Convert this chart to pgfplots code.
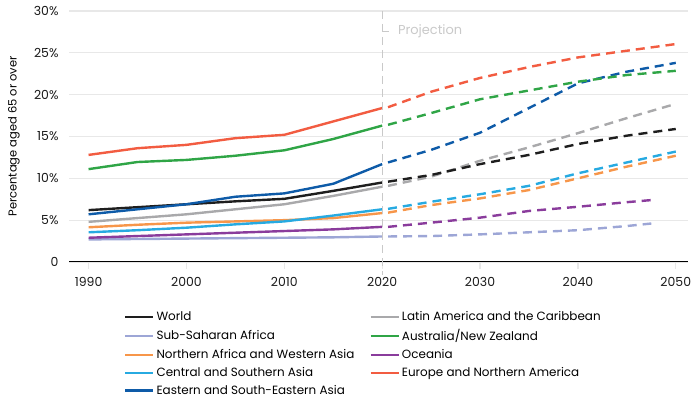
\documentclass[border=0pt]{standalone}
\usepackage{pgfplots}
\pgfplotsset{compat=1.18}
\usepackage{fontspec}
\setmainfont{Poppins}

\definecolor{cWorld}{HTML}{1E1E1E}
\definecolor{cSSA}{HTML}{9DA6D6}
\definecolor{cNAWA}{HTML}{F7964A}
\definecolor{cCSA}{HTML}{27AAE1}
\definecolor{cESEA}{HTML}{0E5BA8}
\definecolor{cLAC}{HTML}{A9A9AB}
\definecolor{cANZ}{HTML}{2FA546}
\definecolor{cOce}{HTML}{8A3C9C}
\definecolor{cENA}{HTML}{F25C41}
\definecolor{cGrid}{HTML}{E8E8E8}
\definecolor{cProj}{HTML}{C9C9C9}

\newcommand{\lw}{\makebox[211bp][l]}
\pgfplotsset{proj/.style={forget plot, dash pattern=on 9bp off 6bp}}

\begin{document}
\begin{tikzpicture}
\useasboundingbox (0,0) rectangle (700bp,407bp);
\begin{axis}[
  at={(69bp,145bp)}, anchor=south west,
  scale only axis, width=619bp, height=251bp,
  xmin=1988, xmax=2051.25, ymin=0, ymax=30,
  clip=false,
  axis line style={draw=none},
  xtick={1990,2000,...,2050},
  ytick={0,5,...,30},
  yticklabels={0,5\%,10\%,15\%,20\%,25\%,30\%},
  /pgf/number format/set thousands separator={},
  /pgf/number format/assume math mode=true,
  tick label style={font=\fontsize{12.5}{14}\selectfont, text=black!90},
  xticklabel style={yshift=-4.5bp},
  xtick pos=bottom, ytick pos=left,
  tick align=outside,
  xtick style={draw=cGrid, line width=1.2bp},
  ytick style={draw=none},
  major tick length=7bp,
  ymajorgrids, grid style={draw=cGrid, line width=1.2bp},
  ylabel={Percentage aged 65 or over},
  ylabel style={font=\fontsize{11.5}{13}\selectfont, at={(axis description cs:-0.089,0.5)}, anchor=center},
  every axis plot/.append style={line width=2.4bp},
  legend columns=2,
  legend cell align=left,
  legend image code/.code={\draw[#1, solid] (0bp,0bp) -- (21bp,0bp); \path (0bp,0bp) -- (28bp,0bp);},
  legend style={at={(axis description cs:0.0888,-0.19)}, anchor=north west,
    draw=none, fill=none, font=\fontsize{12}{14}\selectfont,
    row sep=3.2bp, inner sep=0pt},
]
% solid = estimates, dashed = projections
\addplot[cWorld] coordinates {(1990,6.2)(1995,6.55)(2000,6.9)(2005,7.25)(2010,7.55)(2015,8.5)(2020,9.5)};
\addlegendentry{\lw{World}}
\addplot[cLAC] coordinates {(1990,4.8)(1995,5.25)(2000,5.7)(2005,6.3)(2010,6.9)(2015,7.9)(2020,9.0)};
\addlegendentry{Latin America and the Caribbean}
\addplot[cSSA] coordinates {(1990,2.7)(1995,2.75)(2000,2.8)(2005,2.85)(2010,2.9)(2015,2.95)(2020,3.05)};
\addlegendentry{\lw{Sub-Saharan Africa}}
\addplot[cANZ] coordinates {(1990,11.1)(1995,11.95)(2000,12.2)(2005,12.7)(2010,13.35)(2015,14.7)(2020,16.3)};
\addlegendentry{Australia/New Zealand}
\addplot[cNAWA] coordinates {(1990,4.15)(1995,4.45)(2000,4.7)(2005,4.85)(2010,5.0)(2015,5.25)(2020,5.85)};
\addlegendentry{\lw{Northern Africa and Western Asia}}
\addplot[cOce] coordinates {(1990,2.9)(1995,3.1)(2000,3.3)(2005,3.5)(2010,3.7)(2015,3.9)(2020,4.2)};
\addlegendentry{Oceania}
\addplot[cCSA] coordinates {(1990,3.55)(1995,3.8)(2000,4.1)(2005,4.5)(2010,4.85)(2015,5.55)(2020,6.3)};
\addlegendentry{\lw{Central and Southern Asia}}
\addplot[cENA] coordinates {(1990,12.8)(1995,13.6)(2000,14.0)(2005,14.8)(2010,15.2)(2015,16.8)(2020,18.4)};
\addlegendentry{Europe and Northern America}
\addplot[cESEA] coordinates {(1990,5.7)(1995,6.3)(2000,6.9)(2005,7.8)(2010,8.2)(2015,9.35)(2020,11.7)};
\addlegendentry{\lw{Eastern and South-Eastern Asia}}

\addplot[cSSA, proj] coordinates {(2020.6,3.05)(2025,3.1)(2030,3.3)(2035,3.55)(2040,3.8)(2045,4.3)(2047.5,4.6)};
\addplot[cOce, proj] coordinates {(2020.6,4.2)(2025,4.7)(2030,5.3)(2035,6.1)(2040,6.6)(2045,7.15)(2047.5,7.4)};
\addplot[cNAWA, proj] coordinates {(2020.6,5.9)(2025,6.8)(2030,7.6)(2035,8.6)(2040,10.0)(2045,11.4)(2050,12.7)};
\addplot[cCSA, proj] coordinates {(2020.6,6.35)(2025,7.2)(2030,8.1)(2035,9.1)(2040,10.6)(2045,11.9)(2050,13.2)};
\addplot[cLAC, proj] coordinates {(2020.6,9.1)(2025,10.2)(2030,12.1)(2035,13.7)(2040,15.4)(2045,17.2)(2050,18.9)};
\addplot[cWorld, proj] coordinates {(2020.6,9.6)(2025,10.4)(2030,11.7)(2035,12.8)(2040,14.1)(2045,15.1)(2050,15.9)};
\addplot[cESEA, proj] coordinates {(2020.6,11.9)(2025,13.4)(2030,15.45)(2035,18.4)(2040,21.35)(2045,22.75)(2050,23.8)};
\addplot[cANZ, proj] coordinates {(2020.6,16.4)(2025,17.8)(2030,19.45)(2035,20.5)(2040,21.55)(2045,22.35)(2050,22.85)};
\addplot[cENA, proj] coordinates {(2020.6,18.5)(2025,20.35)(2030,22.0)(2035,23.3)(2040,24.45)(2045,25.25)(2050,26.05)};

% baseline and projection marker
\draw[black, line width=1bp] (rel axis cs:0,0) -- (rel axis cs:1,0);
\draw[cProj, line width=0.9bp, dash pattern=on 8bp off 5bp] (axis cs:2020,30) -- (axis cs:2020,-1.55);
\draw[cProj, line width=0.9bp] (axis cs:2020,27.6) -- (axis cs:2020.65,27.6);
\node[anchor=west, text=cProj, font=\fontsize{13}{15}\selectfont, inner sep=0pt] at (axis cs:2021.6,27.6) {Projection};
\end{axis}
\end{tikzpicture}
\end{document}
